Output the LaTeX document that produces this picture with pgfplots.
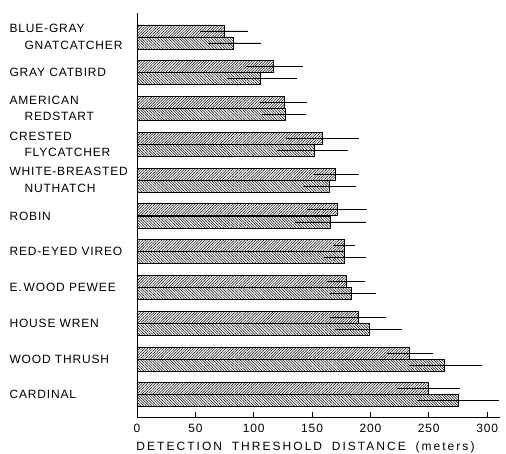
\documentclass[border=0pt]{standalone}
\usepackage{fontspec}
\setmainfont{Liberation Sans}
\newfontfamily\lab[LetterSpace=7]{Liberation Sans}
\newfontfamily\xlab[LetterSpace=17,WordSpace=1.8]{Liberation Sans}
\usepackage{pgfplots}
\usepackage{pgfplotstable}
\pgfplotsset{compat=1.18}
\usetikzlibrary{patterns.meta,calc}

% upper bar of each pair (north-east hatching)
\pgfplotstableread{
y x em ep
0 250 27 27
1 233 19 21
2 190 25 23
3 179 16 16
4 178 10 9
5 172 26 25
6 170 19 20
7 159 31 31
8 126 21 20
9 117 24 25
10 75 21 20
}\upperbars
% lower bar of each pair (north-west hatching)
\pgfplotstableread{
y x em ep
0 275 35 35
1 263 29 33
2 199 29 28
3 184 19 21
4 178 18 18
5 166 31 30
6 165 23 23
7 152 32 29
8 127 20 18
9 106 29 31
10 83 22 23
}\lowerbars

\begin{document}
\begin{tikzpicture}
\begin{axis}[
  scale only axis,
  width=363pt, height=404pt,
  xmin=0, xmax=311, ymin=-0.62, ymax=10.67,
  axis x line=bottom, axis y line=left,
  axis line style={-, line width=0.8pt},
  xtick={0,50,...,300},
  tick align=inside,
  major tick length=5pt,
  x tick style={line width=0.8pt, black},
  y tick style={draw=none},
  ytick={0,...,10},
  yticklabels={CARDINAL, WOOD THRUSH, HOUSE WREN, {E.\,WOOD PEWEE}, RED-EYED VIREO, ROBIN,
    {WHITE-BREASTED\\\hspace*{15pt}NUTHATCH}, {CRESTED\\\hspace*{15pt}FLYCATCHER},
    {AMERICAN\\\hspace*{15pt}REDSTART}, GRAY CATBIRD, {BLUE-GRAY\\\hspace*{15pt}GNATCATCHER}},
  yticklabel style={anchor=west, align=left, xshift=-126pt, font=\lab\fontsize{12}{16.5}\selectfont},
  xticklabel style={font=\lab\fontsize{12}{14}\selectfont, yshift=-4pt},
  /pgf/number format/assume math mode=true,
  xlabel={DETECTION THRESHOLD DISTANCE (meters)},
  xlabel style={font=\xlab\fontsize{12}{14}\selectfont, xshift=-13pt, yshift=-2pt},
  xbar, bar width=0.335, bar shift=0pt,
  error bars/error bar style={line width=0.8pt, black},
]
\addplot[xbar, draw=black, line width=0.8pt,
  pattern={Lines[angle=45,distance=1.9pt,line width=0.5pt]},
  error bars/.cd, x dir=both, x explicit, error mark=none]
  table[x=x, y expr=\thisrow{y}+0.168, x error plus=ep, x error minus=em]{\upperbars};
\addplot[xbar, draw=black, line width=0.8pt,
  pattern={Lines[angle=-45,distance=1.9pt,line width=0.5pt]},
  error bars/.cd, x dir=both, x explicit, error mark=none]
  table[x=x, y expr=\thisrow{y}-0.168, x error plus=ep, x error minus=em]{\lowerbars};
\end{axis}
\pgfresetboundingbox
\path[use as bounding box] ($(current axis.south west)+(-137pt,-36pt)$) rectangle ($(current axis.north east)+(6pt,13pt)$);
\end{tikzpicture}
\end{document}
